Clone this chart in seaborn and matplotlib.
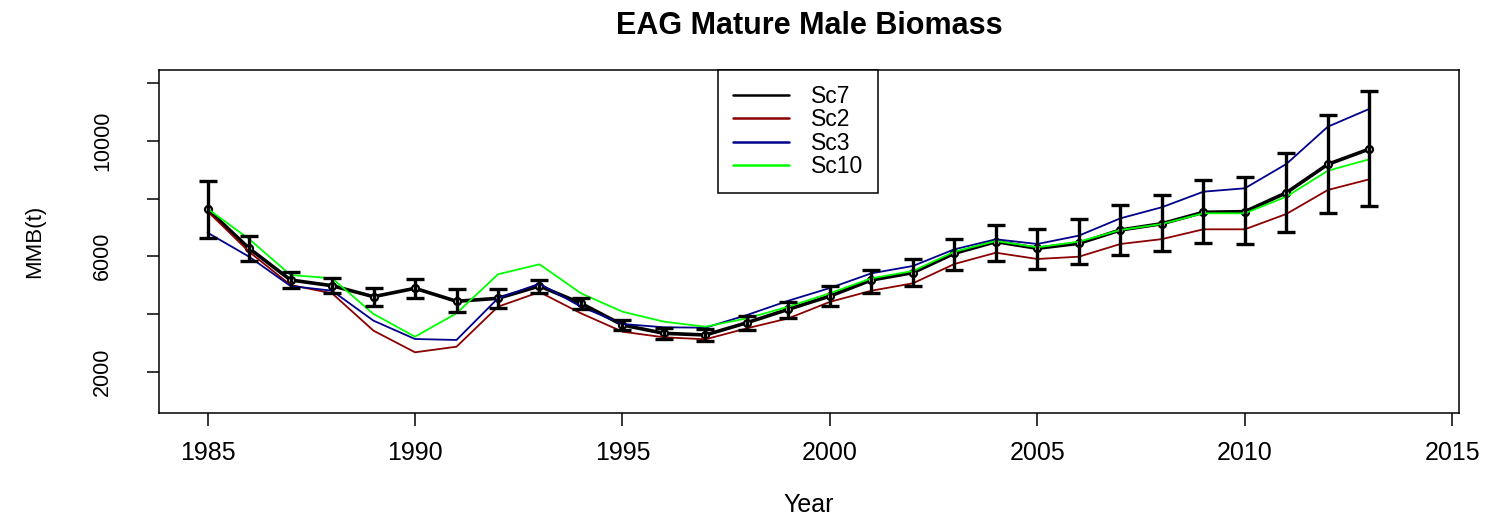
import numpy as np
import pandas as pd
import matplotlib
matplotlib.use("Agg")
import matplotlib.pyplot as plt
from matplotlib.lines import Line2D
import seaborn as sns

# Model years
years = list(range(1985, 2014))

# Mature male biomass (t) by scenario
sc7 = [7629, 6277, 5178, 4981, 4600, 4890, 4440, 4544, 4970, 4370,
       3619, 3330, 3272, 3698, 4163, 4620, 5178, 5432, 6104, 6506,
       6277, 6450, 6911, 7130, 7525, 7548, 8204, 9188, 9719]
sc7_lower = [6624, 5837, 4911, 4717, 4288, 4554, 4059, 4218, 4738, 4163,
             3445, 3123, 3074, 3445, 3850, 4280, 4717, 4981, 5525, 5837,
             5570, 5722, 6034, 6190, 6471, 6426, 6853, 7513, 7744]
sc7_upper = [8620, 6703, 5456, 5258, 4890, 5213, 4856, 4877, 5178, 4565,
             3792, 3504, 3470, 3931, 4426, 4970, 5525, 5906, 6599, 7095,
             6935, 7281, 7777, 8140, 8645, 8738, 9590, 10897, 11729]
sc2 = [7560, 6159, 5005, 4717, 3421, 2672, 2866, 4253, 4760, 4024,
       3386, 3192, 3123, 3504, 3850, 4420, 4807, 5064, 5733, 6124,
       5906, 5986, 6426, 6595, 6935, 6935, 7467, 8298, 8669]
sc3 = [6818, 5986, 4970, 4807, 3768, 3133, 3099, 4544, 5050, 4253,
       3653, 3539, 3525, 3965, 4461, 4900, 5410, 5664, 6242, 6589,
       6426, 6716, 7316, 7700, 8239, 8357, 9199, 10492, 11108]
sc10 = [7650, 6600, 5352, 5237, 4000, 3213, 4024, 5376, 5722, 4717,
        4080, 3733, 3560, 3850, 4253, 4720, 5237, 5490, 6159, 6530,
        6311, 6506, 6911, 7120, 7490, 7490, 8066, 8967, 9362]

scenario_names = ["Sc7", "Sc2", "Sc3", "Sc10"]
scenario_colors = ["#000000", "#8B0000", "#00008B", "#00FF00"]

sns.set_theme(style="ticks")
plt.rcParams["font.family"] = ["Liberation Sans", "DejaVu Sans"]
plt.rcParams["text.color"] = "black"
plt.rcParams["axes.labelcolor"] = "black"

fig = plt.figure(figsize=(14.93, 5.17), dpi=100)
ax = fig.add_axes([0.1065, 0.2006, 0.8707, 0.664])

# Base scenario with points
base = pd.DataFrame({"Year": years, "MMB": sc7})
sns.lineplot(data=base, x="Year", y="MMB", ax=ax, color="black", lw=2.6,
             marker="o", markersize=5, markerfacecolor="white",
             markeredgecolor="black", markeredgewidth=1.6, zorder=2)

# Alternative scenarios
alt = pd.DataFrame({
    "Year": years * 3,
    "MMB": sc2 + sc3 + sc10,
    "Scenario": ["Sc2"] * len(years) + ["Sc3"] * len(years) + ["Sc10"] * len(years),
})
sns.lineplot(data=alt, x="Year", y="MMB", hue="Scenario",
             hue_order=["Sc2", "Sc3", "Sc10"],
             palette=dict(zip(scenario_names[1:], scenario_colors[1:])),
             lw=1.3, ax=ax, legend=False, zorder=3)

# Confidence intervals for the base scenario
yerr = np.vstack([np.array(sc7) - np.array(sc7_lower),
                  np.array(sc7_upper) - np.array(sc7)])
ax.errorbar(years, sc7, yerr=yerr, fmt="none", ecolor="black",
            elinewidth=2.4, capsize=6.5, capthick=2.4, zorder=4)

ax.set_xlim(1983.83, 2015.16)
ax.set_ylim(558, 12457)
ax.set_xticks([1985, 1990, 1995, 2000, 2005, 2010, 2015])
ax.set_yticks([2000, 4000, 6000, 8000, 10000, 12000])
ax.set_yticklabels(["2000", "", "6000", "", "10000", ""], rotation=90, va="center")

ax.tick_params(axis="both", direction="out", length=9, width=1.1,
               color="black", labelcolor="black")
ax.tick_params(axis="x", labelsize=18, pad=11)
ax.tick_params(axis="y", labelsize=15.5, pad=24)
for side in ["top", "bottom", "left", "right"]:
    ax.spines[side].set_visible(True)
    ax.spines[side].set_color("black")
    ax.spines[side].set_linewidth(1.1)

ax.set_xlabel("Year", fontsize=18, labelpad=20)
ax.set_ylabel("MMB(t)", fontsize=16, labelpad=34)
ax.set_title("EAG Mature Male Biomass", fontsize=22, fontweight="bold", pad=26)

handles = [Line2D([0], [0], color=c, lw=1.8) for c in scenario_colors]
leg = ax.legend(handles, scenario_names, loc="upper left",
                bbox_to_anchor=(0.43, 1.0), fontsize=16.5, frameon=True,
                fancybox=False, edgecolor="black", framealpha=1,
                handlelength=2.45, handletextpad=0.95, borderpad=0.65,
                labelspacing=0.02, borderaxespad=0)
leg.get_frame().set_linewidth(1.1)

fig.savefig("out.png", dpi=100, facecolor="white")
